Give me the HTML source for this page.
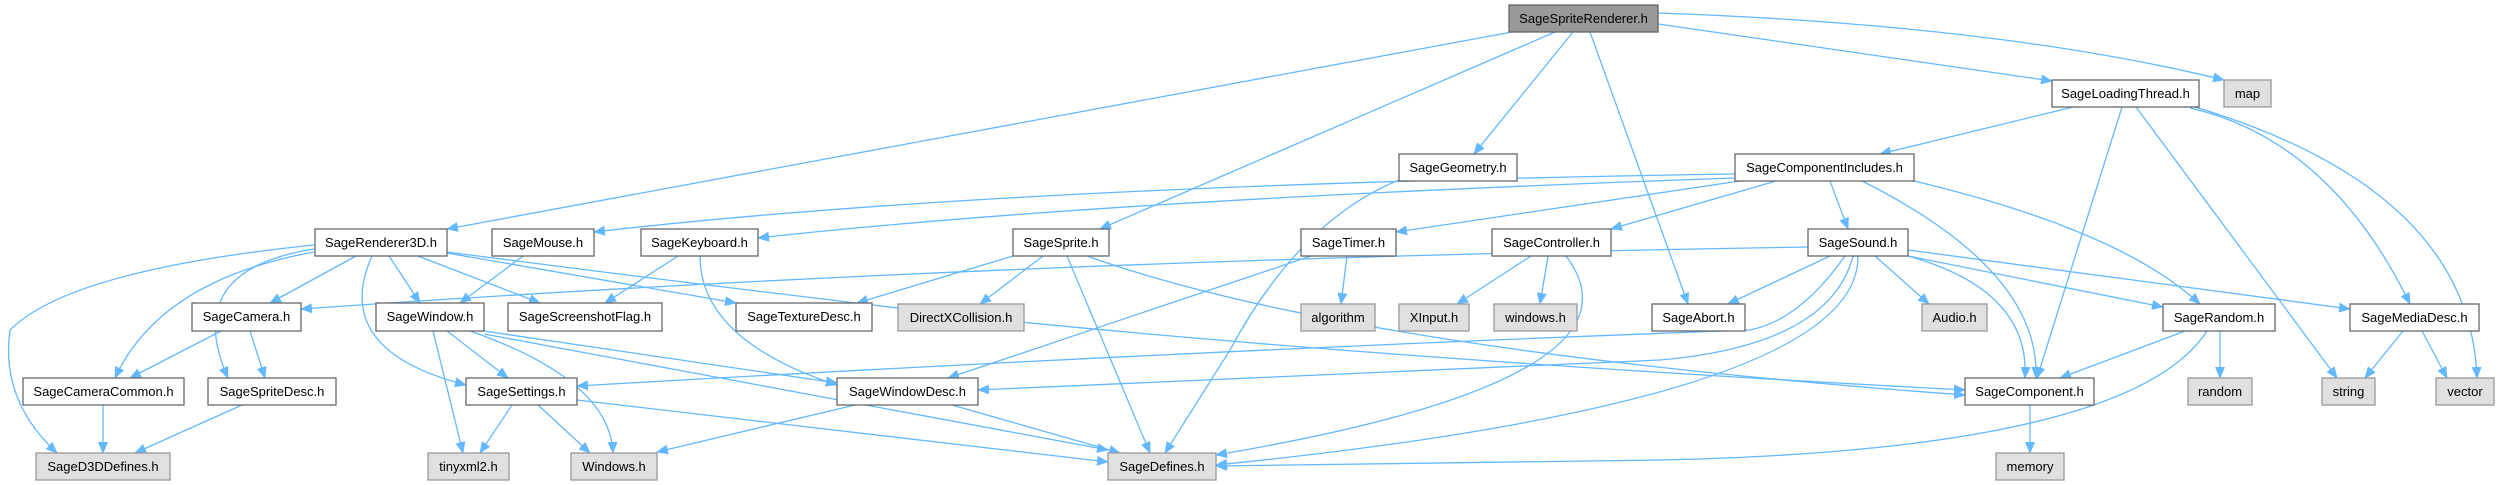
<!DOCTYPE html>
<html><head><meta charset="utf-8"><style>
html,body{margin:0;padding:0;background:#fff;}
svg{display:block;}
text{font-family:"Liberation Sans",sans-serif;font-size:13px;fill:#000;}
.e{fill:none;stroke:#63b8ff;stroke-width:1.3;marker-end:url(#a);}
.n{fill:#fff;stroke:#666;stroke-width:1.3;}
.g{fill:#e0e0e0;stroke:#999;stroke-width:1.3;}
.r{fill:#999;stroke:#666;stroke-width:1.3;}
</style></head><body>
<svg width="2499" height="485" viewBox="0 0 2499 485" xmlns="http://www.w3.org/2000/svg">
<defs><marker id="a" markerWidth="12" markerHeight="10" refX="11" refY="5" orient="auto" markerUnits="userSpaceOnUse"><path d="M0,0 L12,5 L0,10 z" fill="#63b8ff"/></marker></defs>
<!-- edges -->
<path class="e" d="M1512,32 L447,229"/>
<path class="e" d="M1555,32 L1100,229"/>
<path class="e" d="M1573,32 L1474,154"/>
<path class="e" d="M1590,32 L1688,304"/>
<path class="e" d="M1658,24 L2052,81"/>
<path class="e" d="M1658,13 Q2000,25 2224,80"/>
<path class="e" d="M2073,107 L1880,154"/>
<path class="e" d="M2122,107 L2037,378"/>
<path class="e" d="M2136,107 L2337,378"/>
<path class="e" d="M2190,108 Q2330,140 2410,304"/>
<path class="e" d="M2195,107 Q2470,190 2477,378"/>
<path class="e" d="M1735,174 Q1000,185 594,232"/>
<path class="e" d="M1735,178 Q1100,200 758,238"/>
<path class="e" d="M1740,181 L1396,232"/>
<path class="e" d="M1776,181 L1611,229"/>
<path class="e" d="M1830,181 L1848,229"/>
<path class="e" d="M1862,181 Q2040,270 2036,378"/>
<path class="e" d="M1914,181 Q2120,230 2200,304"/>
<path class="e" d="M314,245 Q70,270 10,330 Q0,400 57,453"/>
<path class="e" d="M314,252 Q160,280 115,378"/>
<path class="e" d="M314,249 Q180,270 228,378"/>
<path class="e" d="M356,256 L270,303"/>
<path class="e" d="M372,256 Q330,350 466,385"/>
<path class="e" d="M389,256 L420,303"/>
<path class="e" d="M418,256 L540,303"/>
<path class="e" d="M447,253 L736,303"/>
<path class="e" d="M447,252 Q700,285 1000,320 Q1400,360 1965,390"/>
<path class="e" d="M523,256 L460,303"/>
<path class="e" d="M678,256 L605,303"/>
<path class="e" d="M700,256 Q700,340 837,385"/>
<path class="e" d="M1013,256 L857,303"/>
<path class="e" d="M1043,256 L980,304"/>
<path class="e" d="M1067,256 L1150,453"/>
<path class="e" d="M1087,256 Q1350,350 1965,395"/>
<path class="e" d="M1399,180 Q1300,220 1230,350 L1165,453"/>
<path class="e" d="M1347,256 L1341,304"/>
<path class="e" d="M1311,256 L948,378"/>
<path class="e" d="M1531,256 L1457,304"/>
<path class="e" d="M1548,256 L1540,304"/>
<path class="e" d="M1566,256 Q1660,380 1216,455"/>
<path class="e" d="M1808,247 Q1000,260 301,309"/>
<path class="e" d="M1830,256 L1728,304"/>
<path class="e" d="M1845,256 Q1800,320 1750,330 Q1200,350 577,386"/>
<path class="e" d="M1853,256 Q1830,345 1660,360 L978,390"/>
<path class="e" d="M1858,256 Q1860,400 1216,465"/>
<path class="e" d="M1875,256 L1929,304"/>
<path class="e" d="M1908,256 Q2030,290 2025,378"/>
<path class="e" d="M1908,256 L2163,307"/>
<path class="e" d="M1908,250 L2350,309"/>
<path class="e" d="M221,331 L130,378"/>
<path class="e" d="M250,331 L265,378"/>
<path class="e" d="M433,331 L463,453"/>
<path class="e" d="M447,331 L508,378"/>
<path class="e" d="M470,331 Q610,380 613,453"/>
<path class="e" d="M484,331 L837,383"/>
<path class="e" d="M484,334 L1108,450"/>
<path class="e" d="M103,405 L103,453"/>
<path class="e" d="M242,405 L135,453"/>
<path class="e" d="M512,405 L480,453"/>
<path class="e" d="M538,405 L590,453"/>
<path class="e" d="M577,400 L1108,462"/>
<path class="e" d="M855,405 L657,452"/>
<path class="e" d="M952,405 L1120,453"/>
<path class="e" d="M2185,331 L2060,378"/>
<path class="e" d="M2220,331 L2220,378"/>
<path class="e" d="M2207,331 Q2130,450 1660,460 L1216,466"/>
<path class="e" d="M2403,331 L2365,378"/>
<path class="e" d="M2422,331 L2447,378"/>
<path class="e" d="M2030,405 L2030,453"/>
<!-- nodes -->
<g>
<rect class="r" x="1509" y="5" width="149" height="27"/><text x="1583.5" y="23" text-anchor="middle">SageSpriteRenderer.h</text>
<rect class="n" x="2052" y="80" width="147" height="27"/><text x="2125.5" y="98" text-anchor="middle">SageLoadingThread.h</text>
<rect class="g" x="2224" y="80" width="47" height="27"/><text x="2247.5" y="98" text-anchor="middle">map</text>
<rect class="n" x="1399" y="154" width="118" height="27"/><text x="1458" y="172" text-anchor="middle">SageGeometry.h</text>
<rect class="n" x="1735" y="154" width="179" height="27"/><text x="1824.5" y="172" text-anchor="middle">SageComponentIncludes.h</text>
<rect class="n" x="315" y="229" width="132" height="27"/><text x="381" y="247" text-anchor="middle">SageRenderer3D.h</text>
<rect class="n" x="492" y="229" width="102" height="27"/><text x="543" y="247" text-anchor="middle">SageMouse.h</text>
<rect class="n" x="641" y="229" width="117" height="27"/><text x="699.5" y="247" text-anchor="middle">SageKeyboard.h</text>
<rect class="n" x="1013" y="229" width="96" height="27"/><text x="1061" y="247" text-anchor="middle">SageSprite.h</text>
<rect class="n" x="1301" y="229" width="95" height="27"/><text x="1348.5" y="247" text-anchor="middle">SageTimer.h</text>
<rect class="n" x="1492" y="229" width="119" height="27"/><text x="1551.5" y="247" text-anchor="middle">SageController.h</text>
<rect class="n" x="1808" y="229" width="100" height="27"/><text x="1858" y="247" text-anchor="middle">SageSound.h</text>
<rect class="n" x="192" y="303" width="109" height="28"/><text x="246.5" y="321" text-anchor="middle">SageCamera.h</text>
<rect class="n" x="376" y="303" width="108" height="28"/><text x="430" y="321" text-anchor="middle">SageWindow.h</text>
<rect class="n" x="508" y="303" width="154" height="28"/><text x="585" y="321" text-anchor="middle">SageScreenshotFlag.h</text>
<rect class="n" x="736" y="303" width="136" height="28"/><text x="804" y="321" text-anchor="middle">SageTextureDesc.h</text>
<rect class="g" x="898" y="304" width="126" height="27"/><text x="961" y="322" text-anchor="middle">DirectXCollision.h</text>
<rect class="g" x="1301" y="304" width="74" height="27"/><text x="1338" y="322" text-anchor="middle">algorithm</text>
<rect class="g" x="1399" y="304" width="70" height="27"/><text x="1434" y="322" text-anchor="middle">XInput.h</text>
<rect class="g" x="1494" y="304" width="83" height="27"/><text x="1535.5" y="322" text-anchor="middle">windows.h</text>
<rect class="n" x="1652" y="304" width="93" height="27"/><text x="1698.5" y="322" text-anchor="middle">SageAbort.h</text>
<rect class="g" x="1922" y="304" width="65" height="27"/><text x="1954.5" y="322" text-anchor="middle">Audio.h</text>
<rect class="n" x="2163" y="304" width="112" height="27"/><text x="2219" y="322" text-anchor="middle">SageRandom.h</text>
<rect class="n" x="2350" y="304" width="129" height="27"/><text x="2414.5" y="322" text-anchor="middle">SageMediaDesc.h</text>
<rect class="n" x="23" y="378" width="161" height="27"/><text x="103.5" y="396" text-anchor="middle">SageCameraCommon.h</text>
<rect class="n" x="208" y="378" width="128" height="27"/><text x="272" y="396" text-anchor="middle">SageSpriteDesc.h</text>
<rect class="n" x="466" y="378" width="111" height="27"/><text x="521.5" y="396" text-anchor="middle">SageSettings.h</text>
<rect class="n" x="837" y="378" width="141" height="27"/><text x="907.5" y="396" text-anchor="middle">SageWindowDesc.h</text>
<rect class="n" x="1965" y="378" width="129" height="27"/><text x="2029.5" y="396" text-anchor="middle">SageComponent.h</text>
<rect class="g" x="2188" y="378" width="64" height="27"/><text x="2220" y="396" text-anchor="middle">random</text>
<rect class="g" x="2322" y="378" width="53" height="27"/><text x="2348.5" y="396" text-anchor="middle">string</text>
<rect class="g" x="2436" y="378" width="58" height="27"/><text x="2465" y="396" text-anchor="middle">vector</text>
<rect class="g" x="36" y="453" width="134" height="27"/><text x="103" y="471" text-anchor="middle">SageD3DDefines.h</text>
<rect class="g" x="428" y="453" width="81" height="27"/><text x="468.5" y="471" text-anchor="middle">tinyxml2.h</text>
<rect class="g" x="571" y="453" width="86" height="27"/><text x="614" y="471" text-anchor="middle">Windows.h</text>
<rect class="g" x="1108" y="453" width="108" height="27"/><text x="1162" y="471" text-anchor="middle">SageDefines.h</text>
<rect class="g" x="1996" y="453" width="68" height="27"/><text x="2030" y="471" text-anchor="middle">memory</text>
</g>
</svg>
</body></html>
